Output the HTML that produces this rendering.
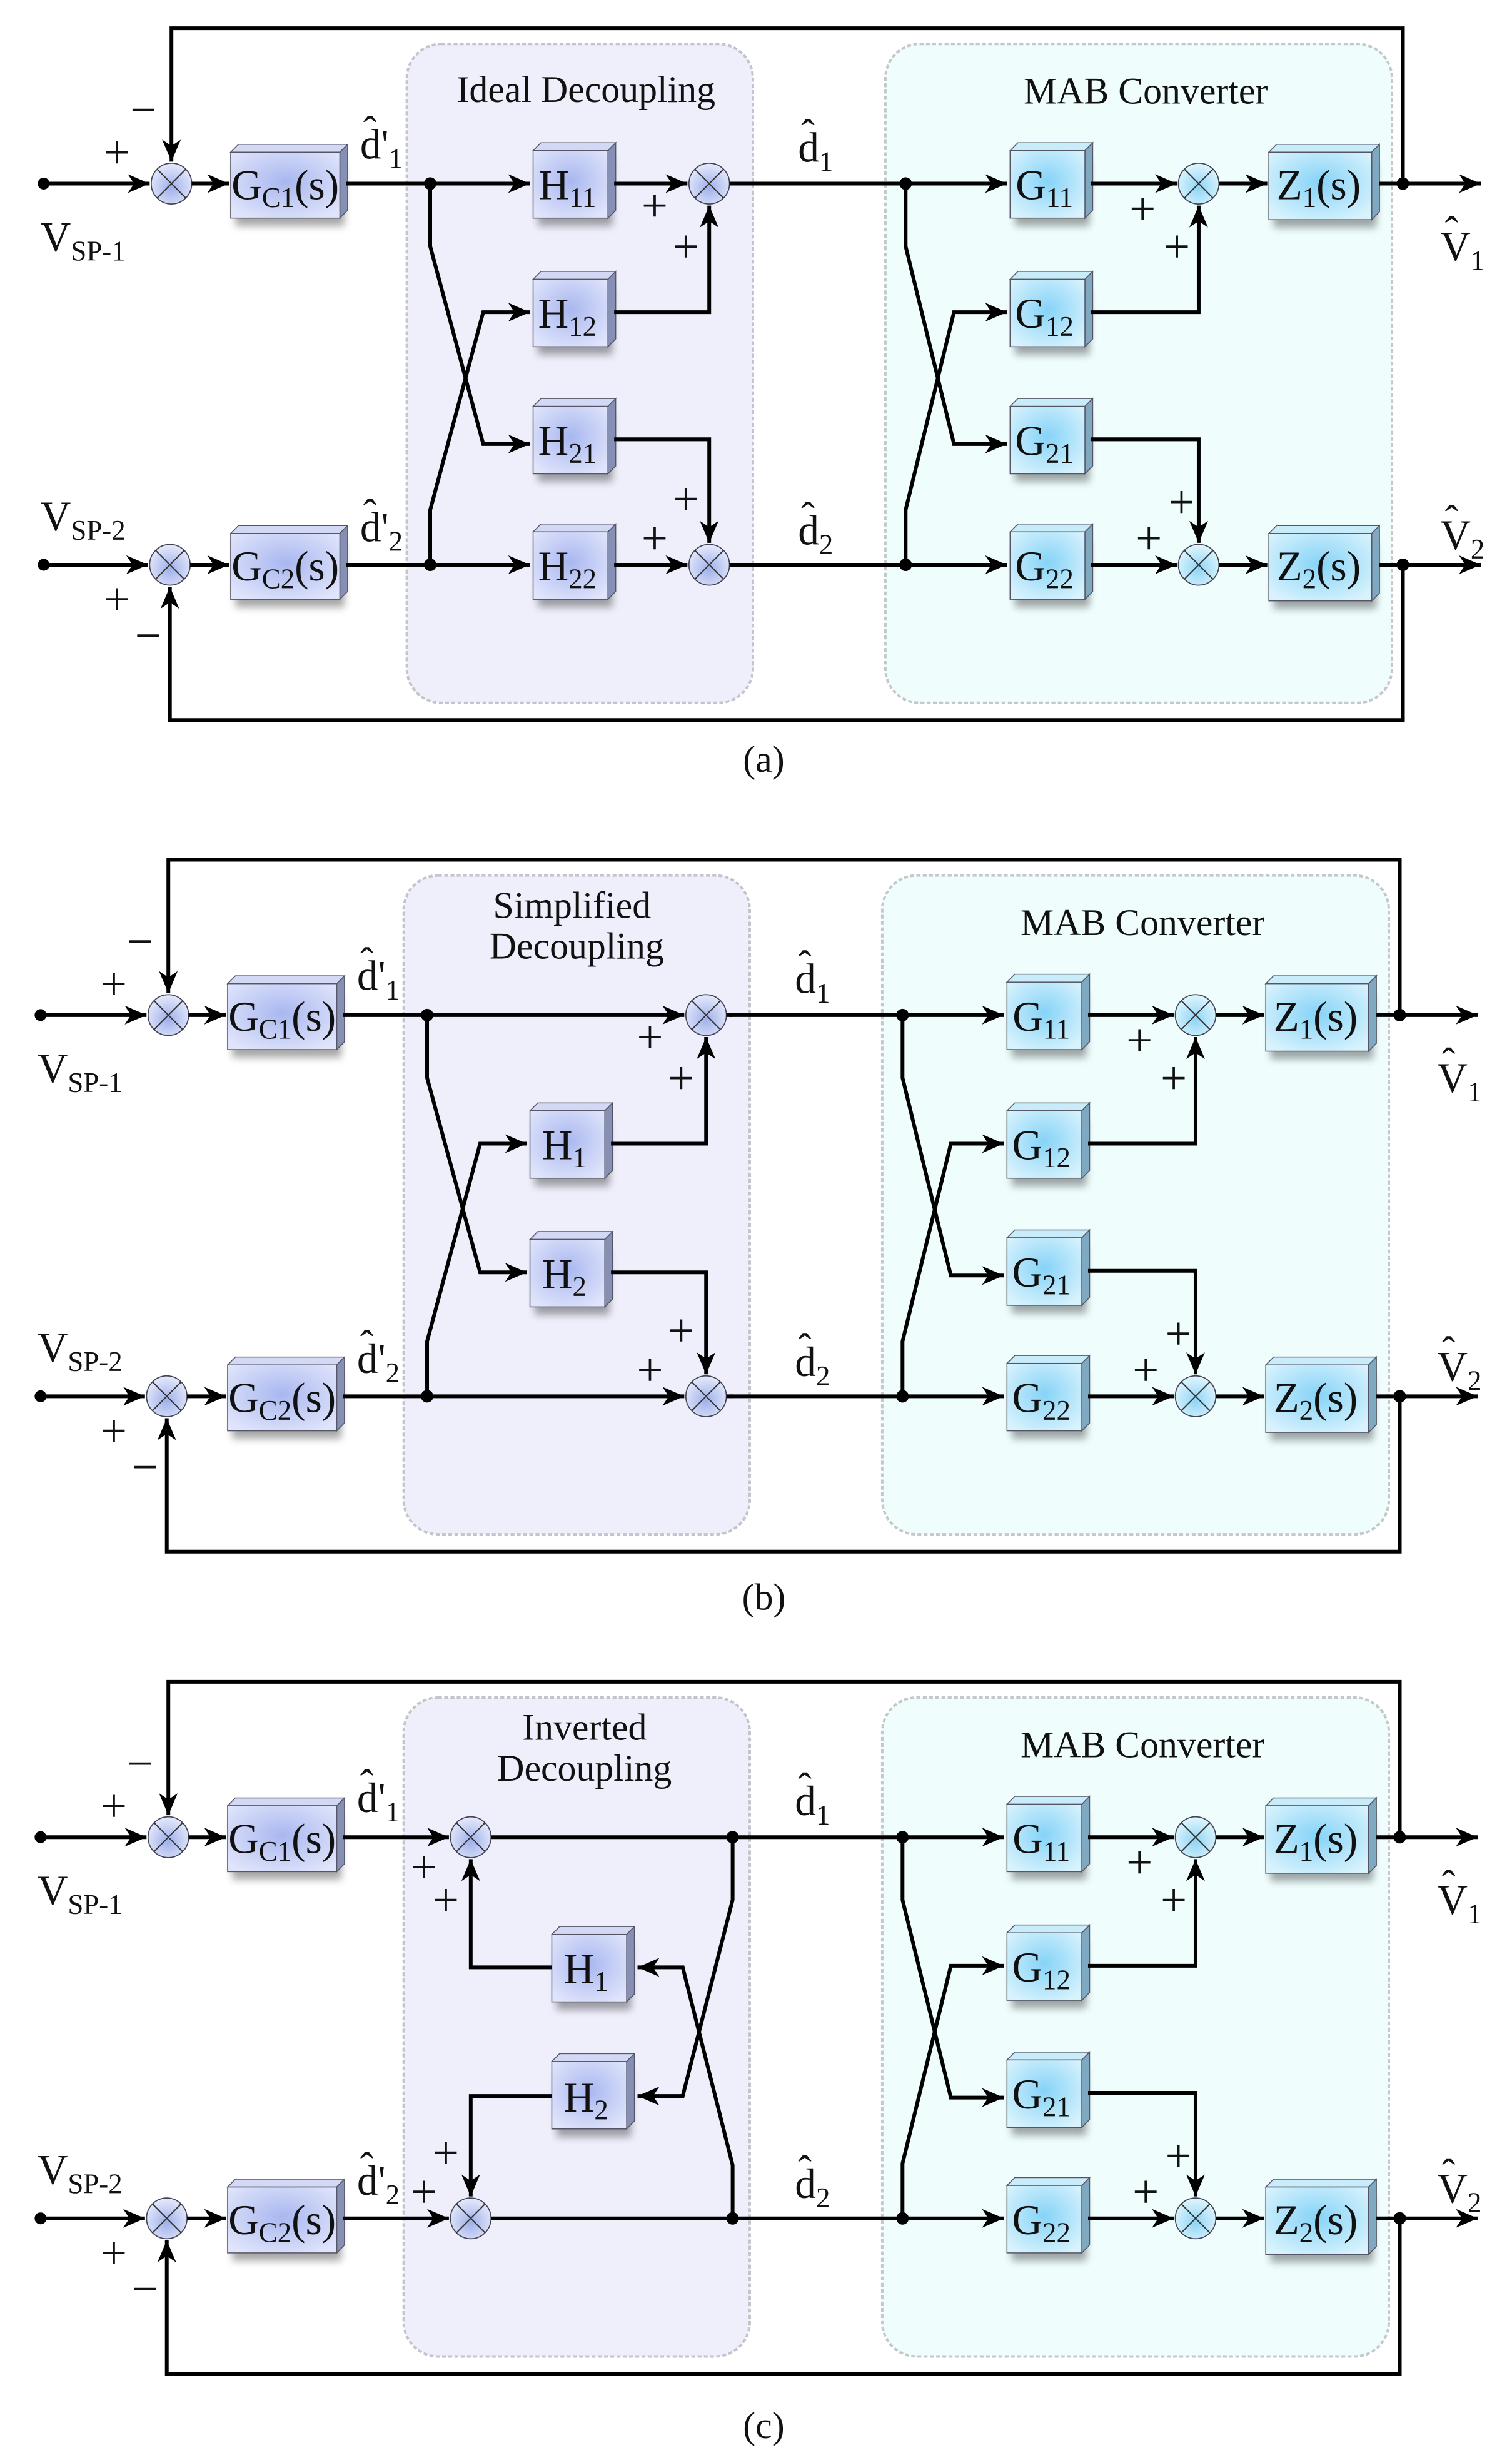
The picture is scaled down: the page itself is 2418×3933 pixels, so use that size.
<!DOCTYPE html>
<html><head><meta charset="utf-8"><style>
html,body{margin:0;padding:0;background:#fff}
svg{display:block}
text{font-family:"Liberation Serif",serif;fill:#111}
.bl{font-size:27px;text-anchor:middle}
.sb{font-size:18px}
.t{font-size:24px;text-anchor:middle}
.pm{font-size:30px;text-anchor:middle}
.ln{fill:none;stroke:#000;stroke-width:2.4}
.la{fill:none;stroke:#000;stroke-width:2.4;marker-end:url(#ar)}
.lb{font-size:27px}
.ht{font-size:26px}
</style></head><body>
<svg width="2418" height="3933" viewBox="0 0 970 1568" preserveAspectRatio="none" xmlns="http://www.w3.org/2000/svg">
<defs>
<marker id="ar" markerWidth="16" markerHeight="12" refX="14" refY="6" orient="auto" markerUnits="userSpaceOnUse"><path d="M0,0 L14,6 L0,12 L4,6z" fill="#000"/></marker>
<radialGradient id="gh" cx="50%" cy="45%" r="65%"><stop offset="0" stop-color="#a9b7ef"/><stop offset="1" stop-color="#e0e5fb"/></radialGradient>
<radialGradient id="gg" cx="50%" cy="45%" r="65%"><stop offset="0" stop-color="#86d3f7"/><stop offset="1" stop-color="#d9f3fd"/></radialGradient>
<radialGradient id="gs" cx="50%" cy="60%" r="60%"><stop offset="0" stop-color="#9fb0ea"/><stop offset="1" stop-color="#e6eafb"/></radialGradient>
<radialGradient id="gs2" cx="50%" cy="60%" r="60%"><stop offset="0" stop-color="#8fd4f5"/><stop offset="1" stop-color="#e0f6fd"/></radialGradient>
<filter id="bl" x="-20%" y="-20%" width="140%" height="160%"><feGaussianBlur stdDeviation="2.5"/></filter>
<g id="hb"><rect x="3" y="6" width="48" height="42" fill="#000" opacity=".35" filter="url(#bl)"/><polygon points="0,0 5,-5 53,-5 48,0" fill="#d3d9f4" stroke="#556" stroke-width=".6"/><polygon points="48,0 53,-5 53,38 48,43" fill="#8690b4" stroke="#556" stroke-width=".6"/><rect width="48" height="43" fill="url(#gh)" stroke="#556" stroke-width=".6"/></g>
<g id="gb"><rect x="3" y="6" width="48" height="42" fill="#000" opacity=".35" filter="url(#bl)"/><polygon points="0,0 5,-5 53,-5 48,0" fill="#c9ecfb" stroke="#556" stroke-width=".6"/><polygon points="48,0 53,-5 53,38 48,43" fill="#7fa9c0" stroke="#556" stroke-width=".6"/><rect width="48" height="43" fill="url(#gg)" stroke="#556" stroke-width=".6"/></g>
<g id="cb"><rect x="3" y="6" width="70" height="41" fill="#000" opacity=".35" filter="url(#bl)"/><polygon points="0,0 5,-5 75,-5 70,0" fill="#d3d9f4" stroke="#556" stroke-width=".6"/><polygon points="70,0 75,-5 75,37 70,42" fill="#8690b4" stroke="#556" stroke-width=".6"/><rect width="70" height="42" fill="url(#gh)" stroke="#556" stroke-width=".6"/></g>
<g id="zb"><rect x="3" y="6" width="66" height="42" fill="#000" opacity=".35" filter="url(#bl)"/><polygon points="0,0 5,-5 71,-5 66,0" fill="#c9ecfb" stroke="#556" stroke-width=".6"/><polygon points="66,0 71,-5 71,38 66,43" fill="#7fa9c0" stroke="#556" stroke-width=".6"/><rect width="66" height="43" fill="url(#gg)" stroke="#556" stroke-width=".6"/></g>
<g id="sm"><circle r="13" fill="url(#gs)" stroke="#445" stroke-width=".7"/><path d="M-9.2,-9.2L9.2,9.2M-9.2,9.2L9.2,-9.2" stroke="#333" stroke-width=".8"/></g>
<g id="sm2"><circle r="13" fill="url(#gs2)" stroke="#445" stroke-width=".7"/><path d="M-9.2,-9.2L9.2,9.2M-9.2,9.2L9.2,-9.2" stroke="#333" stroke-width=".8"/></g>

<g id="common">
<rect x="568" y="28" width="325" height="420" rx="22" fill="#effdfd" stroke="#c4c8cc" stroke-width="1.6" stroke-dasharray="2.5 1.5"/>
<text class="t" x="735" y="66">MAB Converter</text>
<path class="la" d="M900,117 V18 H110 V103"/>
<path class="la" d="M900,360 V459 H109 V374"/>
<circle cx="28" cy="117" r="3.8"/><circle cx="28" cy="360" r="3.8"/>
<path class="la" d="M28,117 H96"/><path class="la" d="M28,360 H95"/>
<use href="#sm" x="110" y="117"/><use href="#sm" x="109" y="360"/>
<path class="la" d="M123,117 H147"/><path class="la" d="M122,360 H147"/>
<use href="#cb" x="148" y="97"/><use href="#cb" x="148" y="340"/>
<text class="bl" x="183" y="127">G<tspan class="sb" dy="5">C1</tspan><tspan dy="-5">(s)</tspan></text>
<text class="bl" x="183" y="370">G<tspan class="sb" dy="5">C2</tspan><tspan dy="-5">(s)</tspan></text>
<text class="lb" x="26" y="160">V<tspan class="sb" dy="6">SP-1</tspan></text>
<text class="lb" x="26" y="338">V<tspan class="sb" dy="6">SP-2</tspan></text>
<text class="pm" x="75" y="107">+</text><text class="pm" x="92" y="80">−</text>
<text class="pm" x="75" y="392">+</text><text class="pm" x="95" y="415">−</text>
<text class="lb" x="231" y="101">d'<tspan class="sb" dy="6">1</tspan></text><text class="ht" x="233" y="92">ˆ</text>
<text class="lb" x="231" y="345">d'<tspan class="sb" dy="6">2</tspan></text><text class="ht" x="233" y="336">ˆ</text>
<text class="lb" x="512" y="103">d<tspan class="sb" dy="6">1</tspan></text><text class="ht" x="514" y="94">ˆ</text>
<text class="lb" x="512" y="347">d<tspan class="sb" dy="6">2</tspan></text><text class="ht" x="514" y="338">ˆ</text>
<path class="la" d="M470,117 H646"/><path class="la" d="M470,360 H646"/>
<circle cx="581" cy="117" r="4"/><circle cx="581" cy="360" r="4"/>
<path class="la" d="M581,117 V157 L612,283 H646"/>
<path class="la" d="M581,360 V325 L612,199 H646"/>
<use href="#gb" x="648" y="96"/><use href="#gb" x="648" y="178"/><use href="#gb" x="648" y="259"/><use href="#gb" x="648" y="339"/>
<text class="bl" x="670" y="127">G<tspan class="sb" dy="5">11</tspan></text>
<text class="bl" x="670" y="209">G<tspan class="sb" dy="5">12</tspan></text>
<text class="bl" x="670" y="290">G<tspan class="sb" dy="5">21</tspan></text>
<text class="bl" x="670" y="370">G<tspan class="sb" dy="5">22</tspan></text>
<path class="la" d="M700,117 H755"/><path class="la" d="M700,199 H769 V131"/>
<path class="la" d="M700,280 H769 V346"/><path class="la" d="M700,360 H755"/>
<use href="#sm2" x="769" y="117"/><use href="#sm2" x="769" y="360"/>
<text class="pm" x="733" y="143">+</text><text class="pm" x="755" y="167">+</text>
<text class="pm" x="758" y="330">+</text><text class="pm" x="737" y="353">+</text>
<path class="la" d="M782,117 H813"/><path class="la" d="M782,360 H813"/>
<use href="#zb" x="814" y="97"/><use href="#zb" x="814" y="340"/>
<text class="bl" x="846" y="127">Z<tspan class="sb" dy="5">1</tspan><tspan dy="-5">(s)</tspan></text>
<text class="bl" x="846" y="370">Z<tspan class="sb" dy="5">2</tspan><tspan dy="-5">(s)</tspan></text>
<path class="la" d="M885,117 H950"/><path class="la" d="M885,360 H950"/>
<circle cx="900" cy="117" r="4"/><circle cx="900" cy="360" r="4"/>
<text class="lb" x="924" y="166">V<tspan class="sb" dy="6">1</tspan></text><text class="ht" x="927" y="156">ˆ</text>
<text class="lb" x="924" y="350">V<tspan class="sb" dy="6">2</tspan></text><text class="ht" x="927" y="340">ˆ</text>
</g>
</defs>

<!-- Panel a -->
<g>
<rect x="261" y="28" width="222" height="420" rx="22" fill="#efeffb" stroke="#c4c4cc" stroke-width="1.6" stroke-dasharray="2.5 1.5"/>
<text class="t" x="376" y="65">Ideal Decoupling</text>
<use href="#common"/>
<path class="la" d="M222,117 H340"/><path class="la" d="M222,360 H340"/>
<circle cx="276" cy="117" r="4"/><circle cx="276" cy="360" r="4"/>
<path class="la" d="M276,117 V157 L310,283 H340"/>
<path class="la" d="M276,360 V325 L310,199 H340"/>
<use href="#hb" x="342" y="96"/><use href="#hb" x="342" y="178"/><use href="#hb" x="342" y="259"/><use href="#hb" x="342" y="339"/>
<text class="bl" x="364" y="127">H<tspan class="sb" dy="5">11</tspan></text>
<text class="bl" x="364" y="209">H<tspan class="sb" dy="5">12</tspan></text>
<text class="bl" x="364" y="290">H<tspan class="sb" dy="5">21</tspan></text>
<text class="bl" x="364" y="370">H<tspan class="sb" dy="5">22</tspan></text>
<path class="la" d="M394,117 H441"/><path class="la" d="M394,199 H455 V131"/>
<path class="la" d="M394,280 H455 V346"/><path class="la" d="M394,360 H441"/>
<use href="#sm" x="455" y="117"/><use href="#sm" x="455" y="360"/>
<path class="ln" d="M468,117 H472 M468,360 H472"/>
<text class="pm" x="420" y="141">+</text><text class="pm" x="440" y="167">+</text>
<text class="pm" x="440" y="328">+</text><text class="pm" x="420" y="353">+</text>
<text class="t" x="490" y="492">(a)</text>
</g>

<!-- Panel b -->
<g transform="translate(-2,530)">
<rect x="261" y="28" width="222" height="420" rx="22" fill="#efeffb" stroke="#c4c4cc" stroke-width="1.6" stroke-dasharray="2.5 1.5"/>
<text class="t" x="369" y="55">Simplified</text>
<text class="t" x="372" y="81">Decoupling</text>
<use href="#common"/>
<path class="la" d="M222,117 H441"/><path class="la" d="M222,360 H441"/>
<circle cx="276" cy="117" r="4"/><circle cx="276" cy="360" r="4"/>
<path class="la" d="M276,117 V157 L310,281 H340"/>
<path class="la" d="M276,360 V325 L310,199 H340"/>
<use href="#hb" x="342" y="178"/><use href="#hb" x="342" y="260"/>
<text class="bl" x="364" y="209">H<tspan class="sb" dy="5">1</tspan></text>
<text class="bl" x="364" y="291">H<tspan class="sb" dy="5">2</tspan></text>
<path class="la" d="M394,199 H455 V131"/><path class="la" d="M394,281 H455 V346"/>
<use href="#sm" x="455" y="117"/><use href="#sm" x="455" y="360"/>
<path class="ln" d="M468,117 H472 M468,360 H472"/>
<text class="pm" x="419" y="141">+</text><text class="pm" x="439" y="167">+</text>
<text class="pm" x="439" y="328">+</text><text class="pm" x="419" y="353">+</text>
<text class="t" x="492" y="496">(b)</text>
</g>

<!-- Panel c -->
<g transform="translate(-2,1054)">
<rect x="261" y="28" width="222" height="420" rx="22" fill="#efeffb" stroke="#c4c4cc" stroke-width="1.6" stroke-dasharray="2.5 1.5"/>
<text class="t" x="377" y="55">Inverted</text>
<text class="t" x="377" y="81">Decoupling</text>
<use href="#common"/>
<path class="la" d="M222,117 H290"/><path class="la" d="M222,360 H290"/>
<use href="#sm" x="304" y="117"/><use href="#sm" x="304" y="360"/>
<path class="ln" d="M317,117 H472 M317,360 H472"/>
<circle cx="472" cy="117" r="4"/><circle cx="472" cy="360" r="4"/>
<path class="la" d="M472,117 V157 L440,282 H411"/>
<path class="la" d="M472,360 V326 L440,200 H411"/>
<use href="#hb" x="356" y="179"/><use href="#hb" x="356" y="260"/>
<text class="bl" x="378" y="210">H<tspan class="sb" dy="5">1</tspan></text>
<text class="bl" x="378" y="292">H<tspan class="sb" dy="5">2</tspan></text>
<path class="la" d="M356,200 H304 V131"/><path class="la" d="M356,282 H304 V346"/>
<text class="pm" x="274" y="146">+</text><text class="pm" x="288" y="167">+</text>
<text class="pm" x="288" y="328">+</text><text class="pm" x="274" y="353">+</text>
<text class="t" x="492" y="500">(c)</text>
</g>
</svg>
</body></html>
